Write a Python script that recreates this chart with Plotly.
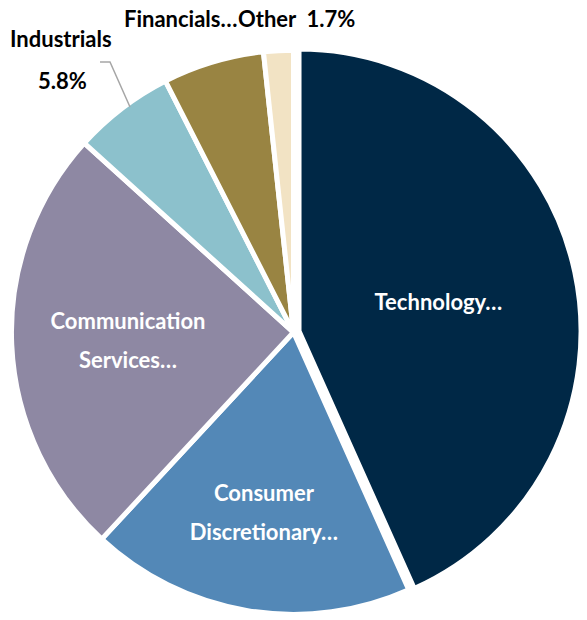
import plotly.graph_objects as go

# Sector weights (%) - clockwise from 12 o'clock
sectors = ["Technology", "Consumer Discretionary", "Communication Services",
           "Industrials", "Financials", "Other"]
weights = [43.3, 18.6, 24.8, 5.8, 5.8, 1.7]
inside_lines = [["Technology…"], ["Consumer", "Discretionary…"], ["Communication", "Services…"], [], [], []]
colors = ["#002846", "#5388b7", "#8e88a3", "#8cc1cc", "#998442", "#f2e3c4"]

# labels for the thin slices, written outside the pie
outside_labels = ["Industrials", "5.8%", "Financials…", "Other  1.7%"]
outside_pos = [(61, 39), (62, 80), (180, 19), (297, 19)]  # pixel position of label centre

W, H = 587, 620

# wider line spacing like the original: big base font, 22px text inside spans
inside_text = ["<br>".join(f"<span style='font-size:22px'>{s}</span>" for s in lines)
               for lines in inside_lines]

fig = go.Figure(go.Pie(
    labels=sectors,
    values=weights,
    text=inside_text,
    textinfo="text",
    textposition="inside",
    insidetextorientation="horizontal",
    sort=False,
    direction="clockwise",
    rotation=0,
    pull=[0.02, 0, 0, 0, 0, 0],
    marker=dict(colors=colors, line=dict(color="white", width=5)),
    insidetextfont=dict(family="Lato", size=30, color="white", weight="bold"),
    domain=dict(x=[0, 1], y=[0, 0.928]),
    hoverinfo="label+percent",
))

for txt, (px_, py_) in zip(outside_labels, outside_pos):
    fig.add_annotation(
        text=txt, x=px_ / W, y=1 - py_ / H, xref="paper", yref="paper",
        showarrow=False, xanchor="center", yanchor="middle",
        font=dict(family="Lato", size=22, color="black", weight="bold"),
    )

# leader line for Industrials
pts = [(100, 62), (110, 62), (130, 107)]
path = "M " + " L ".join(f"{x / W:.4f},{1 - y / H:.4f}" for x, y in pts)
fig.add_shape(type="path", path=path, xref="paper", yref="paper",
              line=dict(color="#a6a6a6", width=1.5))

fig.update_layout(
    width=W, height=H,
    margin=dict(l=0, r=0, t=0, b=0),
    showlegend=False,
    paper_bgcolor="white",
)

# page body has an 8px default margin, drop it so the figure fills the window
fig.write_html("out.html", config={"displayModeBar": False},
               post_script="document.body.style.margin='0px';")
